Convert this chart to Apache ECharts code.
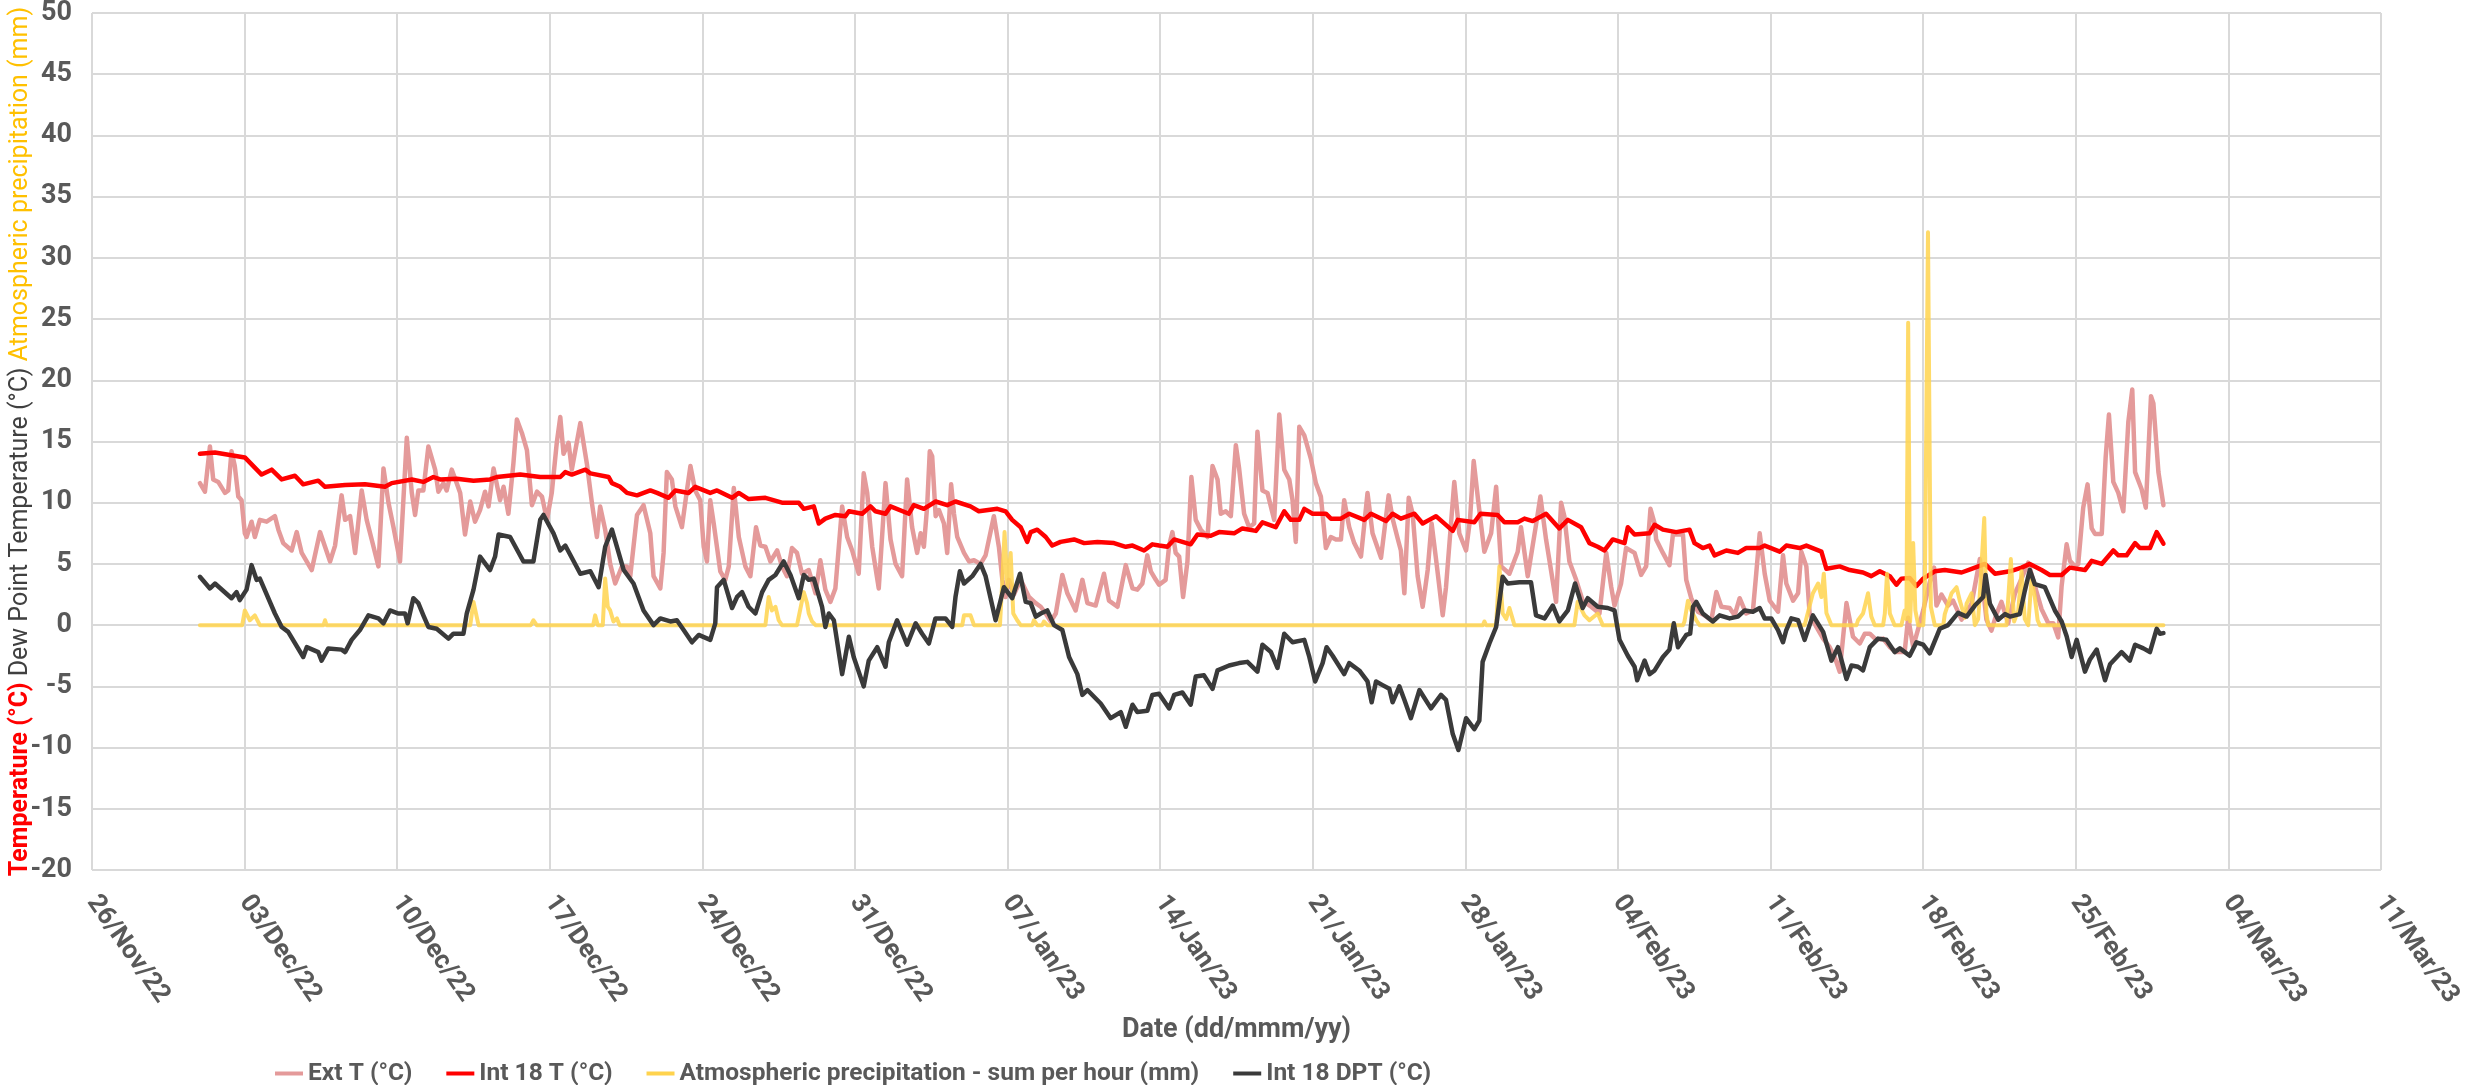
<!DOCTYPE html>
<html><head><meta charset="utf-8">
<script src="https://cdn.jsdelivr.net/npm/echarts@6/dist/echarts.min.js"></script>
<style>html,body{margin:0;padding:0;background:#fff}#c{width:2483px;height:1085px}</style>
</head><body><div id="c"></div>
<script>
// x values are days since 26/Nov/2022 00:00
const START_DATE = [2022, 10, 26];
const MONTHS = ['Jan','Feb','Mar','Apr','May','Jun','Jul','Aug','Sep','Oct','Nov','Dec'];
const yTicks = {min: -20, max: 50, step: 5};
const xTicks = {min: 0, max: 105, step: 7};
const seriesNames = ['Ext T (°C)', 'Int 18 T (°C)', 'Atmospheric precipitation - sum per hour (mm)', 'Int 18 DPT (°C)'];

const extT = [
[4.95,11.6],[5.18,10.9],[5.41,14.6],[5.56,11.9],[5.79,11.7],[6.10,10.8],[6.25,11.0],[6.40,14.2],[6.55,13.0],[6.71,10.5],[6.86,10.2],[7.01,7.5],[7.09,7.2],[7.32,8.45],[7.47,7.2],[7.70,8.6],[8.01,8.45],[8.39,8.9],[8.55,7.8],[8.77,6.7],[9.16,6.1],[9.39,7.6],[9.62,5.9],[10.08,4.5],[10.46,7.6],[10.69,6.4],[10.92,5.2],[11.15,6.5],[11.45,10.6],[11.61,8.6],[11.84,8.9],[12.07,5.9],[12.37,11.0],[12.60,8.6],[12.83,7.0],[13.14,4.8],[13.37,12.8],[13.60,10.0],[13.83,8.0],[14.13,5.2],[14.44,15.3],[14.67,10.8],[14.82,9.0],[14.97,11.0],
[15.20,11.0],[15.43,14.6],[15.74,12.7],[15.89,10.9],[16.12,11.6],[16.27,11.0],[16.50,12.7],[16.73,11.6],[16.89,10.8],[17.11,7.4],[17.35,10.1],[17.57,8.45],[17.80,9.4],[18.03,10.9],[18.19,9.7],[18.42,12.8],[18.72,10.2],[18.88,11.3],[19.10,9.1],[19.33,13.2],[19.49,16.8],[19.72,15.7],[19.95,14.3],[20.18,9.8],[20.41,10.9],[20.64,10.5],[20.87,8.6],[21.09,10.8],[21.32,14.9],[21.48,17.0],[21.63,14.0],[21.86,14.9],[22.01,12.7],[22.40,16.5],[22.70,13.2],[22.93,10.0],[23.16,7.2],[23.31,9.7],[23.54,7.8],[23.77,5.0],[24.00,3.4],[24.31,4.8],[24.54,4.8],[24.69,4.0],[25.00,9.0],[25.30,9.8],[25.61,7.5],[25.76,4.0],[26.07,3.0],[26.22,5.9],[26.37,12.5],
[26.60,11.9],[26.76,9.7],[27.06,8.0],[27.29,11.0],[27.45,13.0],[27.67,11.0],[27.90,10.2],[28.06,6.4],[28.21,5.2],[28.36,10.2],[28.52,8.3],[28.82,4.4],[29.05,3.7],[29.21,4.8],[29.44,11.2],[29.67,7.2],[29.97,4.8],[30.20,4.0],[30.46,8.0],[30.66,6.5],[30.89,6.4],[31.12,5.2],[31.43,6.1],[31.65,4.8],[31.88,4.0],[32.11,6.3],[32.34,5.9],[32.57,4.2],[32.88,4.5],[33.19,2.6],[33.41,5.3],[33.64,2.9],[33.87,1.9],[34.10,3.0],[34.41,9.7],[34.64,7.2],[34.87,6.1],[35.17,4.2],[35.40,12.4],[35.56,10.8],[35.79,6.4],[36.09,3.0],[36.40,11.6],[36.63,7.0],[36.86,5.0],[37.16,4.0],[37.39,11.9],[37.62,8.0],[37.85,5.9],
[38.01,7.5],[38.16,6.4],[38.31,9.7],[38.43,14.2],[38.54,13.8],[38.70,8.9],[38.85,9.4],[39.08,8.3],[39.23,5.9],[39.41,11.5],[39.54,9.1],[39.69,7.2],[40.00,5.9],[40.23,5.2],[40.46,5.3],[40.76,5.0],[40.99,5.7],[41.37,8.9],[41.60,6.4],[41.76,3.7],[41.91,2.3],[42.06,3.7],[42.29,2.5],[42.60,3.7],[42.98,2.3],[43.29,1.8],[43.52,1.5],[43.75,0.95],[43.98,0.3],[44.21,0.95],[44.51,4.1],[44.74,2.6],[45.12,1.2],[45.43,3.7],[45.66,1.8],[46.04,1.6],[46.42,4.2],[46.65,2.0],[47.04,1.5],[47.42,4.9],[47.73,3.0],[47.95,2.9],[48.18,3.4],[48.41,5.7],[48.57,4.4],[48.80,3.7],
[48.95,3.3],[49.25,3.7],[49.41,6.5],[49.56,7.6],[49.71,5.9],[49.87,5.6],[50.05,2.3],[50.25,5.2],[50.43,12.1],[50.63,8.6],[50.86,7.8],[51.17,7.2],[51.40,13.0],[51.63,11.9],[51.78,9.1],[52.01,9.3],[52.24,8.9],[52.47,14.7],[52.62,12.8],[52.85,9.1],[53.08,8.0],[53.31,8.3],[53.46,15.8],[53.69,11.0],[53.92,10.8],[54.23,8.6],[54.46,17.2],[54.69,12.7],[54.92,11.9],[55.07,10.2],[55.22,6.8],[55.38,16.2],[55.61,15.5],[55.91,13.6],[56.14,11.6],[56.37,10.5],[56.60,6.3],[56.83,7.2],[57.06,7.0],[57.29,7.0],[57.44,10.2],[57.67,8.0],[57.90,6.7],[58.21,5.6],[58.51,10.8],[58.74,7.5],[59.13,5.5],[59.48,10.6],[59.66,8.7],[59.89,7.1],[60.04,6.1],[60.20,2.6],[60.40,10.4],
[60.58,9.1],[60.81,4.0],[61.04,1.5],[61.27,4.5],[61.45,8.3],[61.68,5.0],[61.96,0.8],[62.11,3.1],[62.49,11.7],[62.72,7.5],[63.03,6.1],[63.21,8.6],[63.38,13.4],[63.59,10.1],[63.87,6.0],[64.18,7.5],[64.41,11.3],[64.64,4.8],[65.02,4.2],[65.40,6.0],[65.55,8.0],[65.86,4.0],[66.24,8.2],[66.44,10.5],[66.70,7.0],[67.16,1.9],[67.39,10.0],[67.54,8.9],[67.77,5.2],[68.08,3.7],[68.38,2.0],[68.77,1.5],[69.15,0.95],[69.46,5.9],[69.69,3.1],[69.84,1.6],[70.14,3.4],[70.37,6.3],[70.76,5.9],[71.06,4.1],[71.29,4.8],[71.49,9.5],[71.68,8.3],
[71.75,7.0],[72.06,5.9],[72.36,4.9],[72.52,7.4],[72.75,7.4],[72.98,7.4],[73.13,3.7],[73.36,2.2],[73.67,1.1],[73.97,0.8],[74.28,0.4],[74.51,2.7],[74.74,1.5],[75.12,1.4],[75.35,0.8],[75.58,2.2],[75.88,0.95],[76.19,1.2],[76.34,4.2],[76.50,7.5],[76.73,4.2],[76.96,2.0],[77.34,1.1],[77.57,5.7],[77.72,3.4],[78.03,2.0],[78.26,2.6],[78.41,6.0],[78.64,4.8],[78.79,0.95],[79.10,-0.15],[79.41,-1.1],[79.71,-1.8],[79.94,-2.6],[80.17,-3.8],[80.48,1.8],[80.78,-0.95],[81.09,-1.5],[81.32,-0.7],[81.55,-0.7],[81.85,-1.2],[82.16,-1.1],[82.47,-1.8],[82.77,-2.2],
[83.15,-2.2],[83.31,0.6],[83.54,-1.75],[83.77,-0.3],[84.00,1.2],[84.30,3.5],[84.50,4.7],[84.61,1.6],[84.84,2.5],[85.14,1.6],[85.37,2.0],[85.76,0.45],[86.22,1.75],[86.60,5.4],[86.90,0.45],[87.13,-0.45],[87.36,0.9],[87.59,1.9],[87.90,0.15],[88.21,2.6],[88.51,3.8],[88.82,5.1],[89.12,3.2],[89.43,1.3],[89.74,0.15],[89.97,0.15],[90.19,-1.0],[90.35,3.2],[90.58,6.6],[90.73,5.25],[90.96,4.8],[91.11,5.0],[91.34,9.6],[91.54,11.5],[91.73,7.9],[91.88,7.45],[92.19,7.45],[92.37,13.7],[92.52,17.2],[92.72,11.7],[92.95,10.8],[93.18,9.3],[93.41,16.6],[93.59,19.25],[93.72,12.5],[94.02,11.1],[94.21,9.6],[94.45,18.7],[94.56,18.1],[94.79,12.5],[95.02,9.8]
];

const int18T = [
[4.95,14.0],[5.64,14.1],[7.01,13.7],[7.78,12.3],[8.24,12.7],[8.70,11.9],[9.31,12.2],[9.69,11.5],[10.38,11.8],[10.69,11.3],[11.61,11.45],[12.52,11.5],[13.44,11.3],[13.75,11.6],[14.67,11.9],
[15.20,11.7],[15.66,12.1],[15.97,11.9],[16.73,11.95],[17.50,11.8],[18.26,11.9],[18.57,12.1],[19.64,12.3],[20.56,12.1],[21.48,12.1],[21.71,12.5],[22.01,12.3],[22.63,12.7],[22.86,12.4],[23.70,12.1],[23.85,11.6],[24.23,11.3],[24.54,10.8],[25.00,10.6],[25.61,11.0],[25.92,10.8],[26.45,10.4],
[26.76,11.0],[27.37,10.8],[27.67,11.3],[28.36,10.8],[28.67,11.0],[29.36,10.4],[29.67,10.8],[30.12,10.3],[30.89,10.4],[31.65,10.0],[32.42,10.0],[32.65,9.5],[33.11,9.7],[33.34,8.3],[33.64,8.7],[34.10,9.0],[34.56,8.9],[34.72,9.3],[35.33,9.1],[35.71,9.7],[35.94,9.3],[36.40,9.1],[36.63,9.7],[37.47,9.1],[37.70,9.8],
[38.16,9.5],[38.70,10.1],[39.23,9.8],[39.61,10.1],[40.30,9.7],[40.68,9.3],[41.53,9.5],[41.91,9.3],[42.21,8.6],[42.60,8.0],[42.90,6.8],[43.06,7.6],[43.36,7.8],[43.75,7.2],[44.05,6.5],[44.43,6.8],[45.05,7.0],[45.51,6.7],[46.12,6.8],[46.88,6.7],[47.42,6.4],[47.73,6.5],[48.26,6.1],[48.64,6.6],
[48.95,6.5],[49.33,6.4],[49.64,7.0],[50.40,6.6],[50.71,7.4],[51.32,7.3],[51.70,7.6],[52.39,7.5],[52.77,7.9],[53.39,7.7],[53.69,8.4],[54.30,8.0],[54.69,9.3],[54.99,8.6],[55.38,8.6],[55.61,9.5],[55.99,9.1],[56.60,9.1],[56.83,8.7],[57.29,8.7],[57.67,9.1],[58.36,8.6],[58.67,9.1],[59.36,8.5],[59.66,9.1],[60.04,8.7],
[60.66,9.1],[61.04,8.3],[61.34,8.6],[61.65,8.9],[62.42,7.7],[62.65,8.6],[63.41,8.4],[63.69,9.1],[64.48,9.0],[64.79,8.4],[65.40,8.4],[65.71,8.7],[66.09,8.5],[66.70,9.1],[67.31,7.9],[67.70,8.6],[68.31,8.0],[68.69,6.7],[69.07,6.4],[69.38,6.1],[69.76,7.0],[70.30,6.7],[70.45,8.0],[70.76,7.4],[71.45,7.5],
[71.68,8.2],[72.06,7.8],[72.67,7.6],[73.28,7.8],[73.51,6.7],[73.89,6.3],[74.20,6.5],[74.43,5.7],[74.97,6.1],[75.50,5.9],[75.88,6.3],[76.50,6.3],[76.73,6.5],[77.42,6.0],[77.72,6.5],[78.33,6.3],[78.64,6.5],[79.33,6.0],[79.56,4.6],[80.17,4.8],[80.63,4.5],[81.24,4.3],[81.62,4.0],[82.01,4.4],[82.47,4.0],[82.77,3.3],
[83.00,3.8],[83.38,3.85],[83.69,3.2],[84.00,3.8],[84.53,4.4],[84.99,4.5],[85.76,4.3],[86.22,4.6],[86.83,5.0],[87.29,4.2],[87.98,4.4],[88.51,4.7],[88.89,5.0],[89.43,4.5],[89.81,4.1],[90.35,4.1],[90.73,4.7],[91.42,4.5],[91.73,5.25],[92.19,5.0],[92.72,6.1],[92.95,5.7],[93.33,5.7],[93.72,6.7],[93.94,6.3],[94.40,6.3],[94.71,7.6],[95.02,6.65]
];

const precip = [
[4.95,0],[6.89,0],[7.01,1.2],[7.24,0.4],[7.47,0.8],[7.70,0],[10.62,0],[10.69,0.4],[10.76,0],
[17.35,0],[17.50,1.9],[17.73,0],[20.13,0],[20.25,0.4],[20.40,0],[22.99,0],[23.08,0.8],[23.20,0],[23.43,0],[23.54,3.8],[23.66,1.5],[23.77,1.2],[23.92,0.3],[24.08,0.55],[24.20,0],
[30.89,0],[31.04,2.3],[31.19,1.2],[31.35,1.5],[31.50,0.4],[31.65,0],[32.34,0],[32.45,0.95],[32.65,2.7],[32.80,1.8],[32.88,0.95],[33.03,0.3],[33.19,0],
[39.92,0],[40.00,0.8],[40.30,0.8],[40.46,0],[41.65,0],[41.76,3.7],[41.86,7.6],[41.99,3.1],[42.14,5.9],[42.26,0.95],[42.44,0.4],[42.60,0],[43.13,0],[43.21,0.4],[43.36,0],[43.59,0],[43.67,0.3],[43.82,0],
[63.80,0],[63.87,0.3],[63.95,0],[64.41,0],[64.56,4.8],[64.71,0.95],[64.87,0.5],[65.02,1.4],[65.25,0],[68.00,0],[68.15,1.9],[68.46,0.8],[68.69,0.4],[69.07,0.95],[69.30,0],
[72.98,0],[73.05,0.3],[73.21,2.0],[73.36,1.2],[73.59,0.4],[73.74,0],[78.56,0],[78.94,2.6],[79.18,3.4],[79.33,2.3],[79.44,4.2],[79.56,1.0],[79.79,0],[80.94,0],[81.01,0.4],[81.24,0.95],[81.47,2.6],[81.62,0.7],[81.78,0],[82.16,0],[82.24,0.95],[82.34,4.2],[82.47,0.95],[82.69,0],
[83.00,0],[83.15,1.2],[83.23,0.5],[83.31,24.7],[83.40,0.3],[83.54,6.7],[83.64,1.2],[83.77,0],[84.00,0],[84.07,2.0],[84.22,32.1],[84.35,1.5],[84.53,0],[84.92,0],[84.99,0.9],[85.30,2.6],[85.53,3.1],[85.68,2.0],[85.91,0.6],[85.99,1.75],[86.22,2.6],[86.37,0],[86.52,0.5],[86.60,2.6],[86.80,8.75],[86.90,1.0],[86.98,0],[87.82,0],[88.02,5.4],[88.17,0.3],[88.36,1.2],[88.51,4.4],[88.66,0.5],[88.82,0],[88.97,3.8],[89.12,2.3],[89.25,0.4],[89.35,0],[95.02,0]
];

const int18DPT = [
[4.95,3.95],[5.41,3.0],[5.64,3.4],[6.40,2.2],[6.63,2.7],[6.78,2.05],[7.09,2.9],[7.32,4.9],[7.55,3.7],[7.70,3.8],[8.39,0.95],[8.70,-0.15],[9.00,-0.55],[9.69,-2.6],[9.85,-1.8],[10.38,-2.2],[10.53,-2.9],[10.84,-1.9],[11.45,-2.0],[11.61,-2.2],[11.91,-1.2],[12.29,-0.4],[12.68,0.8],[13.14,0.55],[13.37,0.15],[13.67,1.2],[14.06,0.95],[14.36,0.95],[14.48,0.15],[14.74,2.2],[14.97,1.8],
[15.20,0.8],[15.43,-0.15],[15.81,-0.3],[16.35,-1.1],[16.58,-0.7],[17.04,-0.7],[17.19,0.95],[17.50,2.9],[17.80,5.6],[18.26,4.5],[18.49,5.6],[18.65,7.4],[19.18,7.2],[19.79,5.2],[20.25,5.2],[20.56,8.6],[20.71,9.0],[21.17,7.5],[21.48,6.1],[21.71,6.5],[22.40,4.2],[22.86,4.4],[23.24,3.1],[23.54,6.4],[23.85,7.8],[24.08,6.4],[24.39,4.5],[24.84,3.4],[25.30,1.2],[25.76,0],[26.07,0.55],[26.53,0.3],
[26.83,0.4],[27.14,-0.4],[27.52,-1.4],[27.83,-0.8],[28.36,-1.2],[28.59,0.15],[28.67,3.1],[28.98,3.7],[29.36,1.4],[29.59,2.3],[29.82,2.7],[30.12,1.5],[30.43,0.95],[30.74,2.7],[31.04,3.7],[31.35,4.1],[31.73,5.2],[32.04,4.1],[32.42,2.2],[32.65,4.1],[32.88,3.7],[33.11,3.8],[33.49,1.5],[33.64,-0.15],[33.80,0.95],[34.03,0.4],[34.41,-4.0],[34.72,-0.95],[34.94,-2.6],[35.40,-5.0],[35.63,-2.9],[36.02,-1.8],[36.40,-3.4],[36.55,-1.4],[36.93,0.4],[37.39,-1.6],[37.78,0.15],
[38.08,-0.7],[38.39,-1.5],[38.69,0.55],[39.15,0.55],[39.46,-0.15],[39.61,2.3],[39.81,4.4],[40.00,3.4],[40.38,4.0],[40.76,5.0],[40.99,4.0],[41.45,0.4],[41.83,3.1],[42.21,2.2],[42.57,4.2],[42.83,1.9],[43.06,1.8],[43.29,0.7],[43.52,0.95],[43.82,1.2],[44.13,0],[44.51,-0.4],[44.82,-2.6],[45.20,-4.0],[45.43,-5.7],[45.66,-5.3],[46.27,-6.4],[46.73,-7.6],[47.19,-7.1],[47.42,-8.3],[47.73,-6.5],[47.95,-7.1],[48.41,-7.0],[48.64,-5.7],
[48.95,-5.6],[49.41,-6.8],[49.64,-5.7],[50.02,-5.5],[50.40,-6.5],[50.63,-4.2],[51.01,-4.1],[51.40,-5.2],[51.63,-3.7],[52.16,-3.3],[52.62,-3.1],[53.00,-3.0],[53.46,-3.8],[53.69,-1.6],[54.08,-2.2],[54.38,-3.5],[54.69,-0.7],[55.07,-1.4],[55.61,-1.2],[55.84,-2.6],[56.11,-4.6],[56.45,-3.1],[56.63,-1.8],[56.91,-2.5],[57.44,-4.0],[57.67,-3.1],[58.13,-3.7],[58.51,-4.6],[58.70,-6.3],[58.90,-4.6],[59.20,-4.9],[59.51,-5.2],[59.66,-6.3],[59.97,-5.0],
[60.20,-6.1],[60.50,-7.6],[60.89,-5.3],[61.42,-6.8],[61.88,-5.7],[62.11,-6.1],[62.42,-8.9],[62.68,-10.2],[63.03,-7.6],[63.41,-8.5],[63.64,-7.8],[63.79,-3.0],[64.10,-1.5],[64.41,-0.15],[64.71,3.95],[64.94,3.4],[65.48,3.5],[66.01,3.5],[66.24,0.8],[66.63,0.55],[67.01,1.6],[67.31,0.3],[67.70,1.2],[68.03,3.4],[68.38,1.4],[68.61,2.2],[69.07,1.5],[69.53,1.4],[69.84,1.2],[70.07,-1.2],[70.45,-2.5],[70.76,-3.4],[70.88,-4.5],[71.22,-2.9],[71.45,-4.0],[71.68,-3.7],
[72.06,-2.6],[72.36,-2.0],[72.56,0.15],[72.75,-1.8],[73.13,-0.8],[73.31,-0.7],[73.44,1.5],[73.59,1.9],[73.89,0.95],[74.35,0.3],[74.66,0.8],[75.12,0.55],[75.50,0.7],[75.81,1.2],[76.19,1.1],[76.50,1.4],[76.73,0.55],[77.03,0.55],[77.34,-0.4],[77.57,-1.4],[77.72,-0.4],[77.95,0.55],[78.26,0.4],[78.56,-1.2],[78.94,0.8],[79.41,-0.55],[79.79,-2.9],[80.09,-1.8],[80.32,-3.3],[80.48,-4.4],[80.71,-3.3],[81.01,-3.4],[81.24,-3.7],[81.55,-1.8],[81.93,-1.1],[82.31,-1.2],[82.69,-2.2],[82.93,-1.9],
[83.00,-1.75],[83.38,-2.5],[83.69,-1.4],[84.00,-1.6],[84.30,-2.3],[84.76,-0.3],[85.14,0],[85.60,1.0],[85.99,0.7],[86.37,1.6],[86.75,2.3],[86.86,4.1],[87.06,1.75],[87.44,0.45],[87.75,0.9],[87.98,0.7],[88.43,0.9],[88.66,2.8],[88.89,4.5],[89.12,3.35],[89.58,3.1],[90.04,1.2],[90.35,0.3],[90.58,-0.9],[90.81,-2.6],[91.04,-1.2],[91.42,-3.8],[91.65,-2.8],[91.96,-2.0],[92.34,-4.5],[92.57,-3.2],[93.10,-2.2],[93.48,-2.9],[93.72,-1.6],[94.10,-1.9],[94.40,-2.2],[94.71,-0.3],[94.86,-0.7],[95.02,-0.65]
];

const FONT = "'Liberation Sans Narrow', 'Arial Narrow', 'Roboto', sans-serif";
const GREY = '#595959';
const base = Date.UTC(START_DATE[0], START_DATE[1], START_DATE[2]);
function fmtDay(d) {
  const dt = new Date(base + Math.round(d) * 86400000);
  const dd = String(dt.getUTCDate()).padStart(2, '0');
  const yy = String(dt.getUTCFullYear()).slice(2);
  return dd + '/' + MONTHS[dt.getUTCMonth()] + '/' + yy;
}

const chart = echarts.init(document.getElementById('c'), null, {renderer: 'canvas'});
const lineSeries = (name, data, color, width, z, opacity) => ({
  name, type: 'line', data, showSymbol: false, symbol: 'none', z,
  lineStyle: {color, width, opacity: opacity == null ? 1 : opacity, join: 'round', cap: 'round'},
  itemStyle: {color}, animation: false
});

chart.setOption({
  backgroundColor: '#ffffff',
  animation: false,
  grid: {left: 92, right: 102, top: 13, bottom: 215, containLabel: false, outerBoundsMode: 'none'},
  legend: {
    left: 270, top: 1056, icon: 'rect', itemWidth: 28, itemHeight: 4, itemGap: 34,
    textStyle: {fontFamily: FONT, fontSize: 24.5, fontWeight: 'bold', color: GREY},
    data: seriesNames
  },
  xAxis: {
    type: 'value', min: xTicks.min, max: xTicks.max, interval: xTicks.step,
    name: 'Date (dd/mmm/yy)', nameLocation: 'middle', nameGap: 147,
    nameTextStyle: {fontFamily: FONT, fontSize: 27, fontWeight: 'bold', color: GREY},
    axisLine: {show: false}, axisTick: {show: false},
    axisLabel: {rotate: -55, margin: 28, formatter: fmtDay, fontFamily: FONT, fontSize: 26, fontWeight: 'bold', color: GREY},
    splitLine: {show: true, lineStyle: {color: '#d9d9d9', width: 2}}
  },
  yAxis: {
    type: 'value', min: yTicks.min, max: yTicks.max, interval: yTicks.step,
    name: '{r|Temperature (°C)} {k|Dew Point Temperature (°C)} {y|Atmospheric precipitation (mm)}',
    nameLocation: 'middle', nameRotate: 90, nameGap: 59, nameMoveOverlap: false,
    nameTextStyle: {
      fontFamily: FONT, fontSize: 25,
      rich: {
        r: {fontFamily: FONT, fontSize: 25, fontWeight: 'bold', color: '#FF0000'},
        k: {fontFamily: FONT, fontSize: 25, color: '#404040'},
        y: {fontFamily: FONT, fontSize: 25, color: '#FFC000'}
      }
    },
    axisLine: {show: false}, axisTick: {show: false},
    axisLabel: {margin: 20, fontFamily: FONT, fontSize: 27, fontWeight: 'bold', color: GREY},
    splitLine: {show: true, lineStyle: {color: '#d9d9d9', width: 2}}
  },
  series: [
    lineSeries(seriesNames[0], extT, '#E49A9A', 4.5, 1),
    lineSeries(seriesNames[1], int18T, '#FF0000', 4.5, 2),
    lineSeries(seriesNames[2], precip, '#FFD34D', 4, 3, 0.85),
    lineSeries(seriesNames[3], int18DPT, '#3A3A3A', 4.5, 4)
  ]
});
</script></body></html>
